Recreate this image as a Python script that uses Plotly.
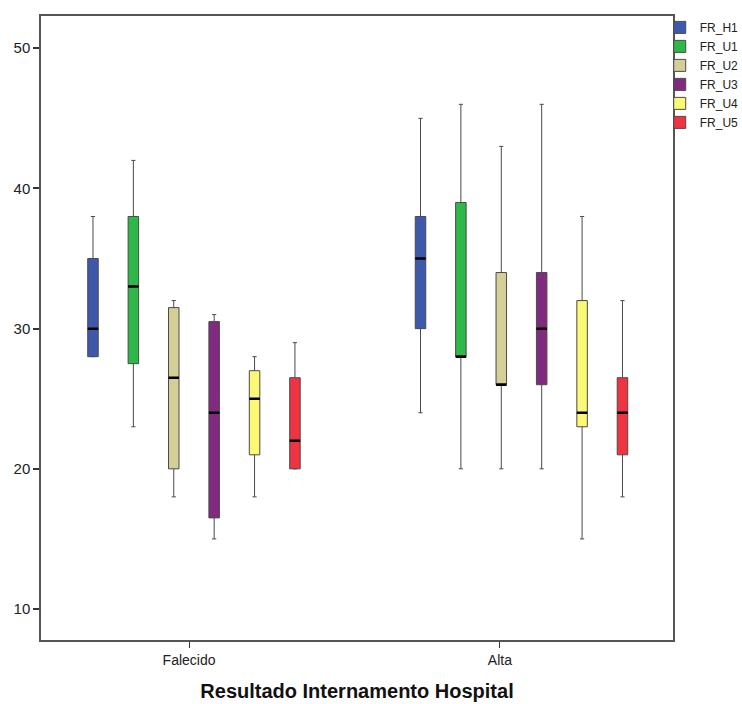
import plotly.graph_objects as go

# Outcome groups and their positions on the x axis
categories = ["Falecido", "Alta"]
group_pos = [0, 1]

series = ["FR_H1", "FR_U1", "FR_U2", "FR_U3", "FR_U4", "FR_U5"]
colors = ["#3E58AC", "#2EB848", "#D4CE97", "#822980", "#FBF873", "#EF3340"]

# Box statistics per series: [Falecido, Alta]
lower = {
    "FR_H1": [28, 24], "FR_U1": [23, 20], "FR_U2": [18, 20],
    "FR_U3": [15, 20], "FR_U4": [18, 15], "FR_U5": [20, 18],
}
q1 = {
    "FR_H1": [28, 30], "FR_U1": [27.5, 28], "FR_U2": [20, 26],
    "FR_U3": [16.5, 26], "FR_U4": [21, 23], "FR_U5": [20, 21],
}
median = {
    "FR_H1": [30, 35], "FR_U1": [33, 28], "FR_U2": [26.5, 26],
    "FR_U3": [24, 30], "FR_U4": [25, 24], "FR_U5": [22, 24],
}
q3 = {
    "FR_H1": [35, 38], "FR_U1": [38, 39], "FR_U2": [31.5, 34],
    "FR_U3": [30.5, 34], "FR_U4": [27, 32], "FR_U5": [26.5, 26.5],
}
upper = {
    "FR_H1": [38, 45], "FR_U1": [42, 46], "FR_U2": [32, 43],
    "FR_U3": [31, 46], "FR_U4": [28, 38], "FR_U5": [29, 32],
}

y_ticks = [10, 20, 30, 40, 50]
# tick marks sit slightly left of the cluster centres
tick_pos = [-0.015, 0.934]

FONT = "Liberation Sans, Arial, sans-serif"

fig = go.Figure()
for name, col in zip(series, colors):
    fig.add_trace(go.Box(
        name=name,
        x=group_pos,
        q1=q1[name], median=median[name], q3=q3[name],
        lowerfence=lower[name], upperfence=upper[name],
        fillcolor=col,
        line=dict(color="#4a4a4a", width=1),
        whiskerwidth=0.4,
        offsetgroup=name,
        boxpoints=False,
        hoverinfo="skip",
    ))

# thicker black median bars drawn on top of each box
for name in series:
    fig.add_trace(go.Box(
        name=name + " median",
        x=group_pos,
        q1=median[name], median=median[name], q3=median[name],
        lowerfence=median[name], upperfence=median[name],
        fillcolor="rgba(0,0,0,0)",
        line=dict(color="black", width=2.5),
        whiskerwidth=0,
        offsetgroup=name,
        boxpoints=False,
        showlegend=False,
        hoverinfo="skip",
    ))

fig.update_layout(
    width=742, height=704,
    margin=dict(l=41, r=69, t=16, b=64, autoexpand=False),
    paper_bgcolor="white",
    plot_bgcolor="white",
    boxmode="group",
    boxgap=0.26,
    boxgroupgap=0.74,
    font=dict(family=FONT, size=13, color="#222"),
    legend=dict(
        x=0.979, xanchor="left", y=1.005, yanchor="top",
        font=dict(family=FONT, size=12, color="#222"),
        tracegroupgap=0, itemwidth=30,
        bgcolor="rgba(0,0,0,0)",
    ),
    xaxis=dict(
        range=[-0.467, 1.4626],
        tickmode="array", tickvals=tick_pos, ticktext=categories,
        ticks="outside", ticklen=6, tickwidth=1, tickcolor="#333",
        showline=True, linecolor="#555", linewidth=1.5, mirror=True,
        showgrid=False, zeroline=False,
        tickfont=dict(size=14),
        title=dict(text="<b>Resultado Internamento Hospital</b>",
                   font=dict(family=FONT, size=20, color="#111"), standoff=17),
    ),
    yaxis=dict(
        range=[7.79, 52.30],
        tickmode="array", tickvals=y_ticks,
        ticks="outside", ticklen=6, tickwidth=1.5, tickcolor="#333",
        showline=True, linecolor="#555", linewidth=1.5, mirror=True,
        showgrid=False, zeroline=False,
        tickfont=dict(size=15),
    ),
)

fig.write_html("out.html")
